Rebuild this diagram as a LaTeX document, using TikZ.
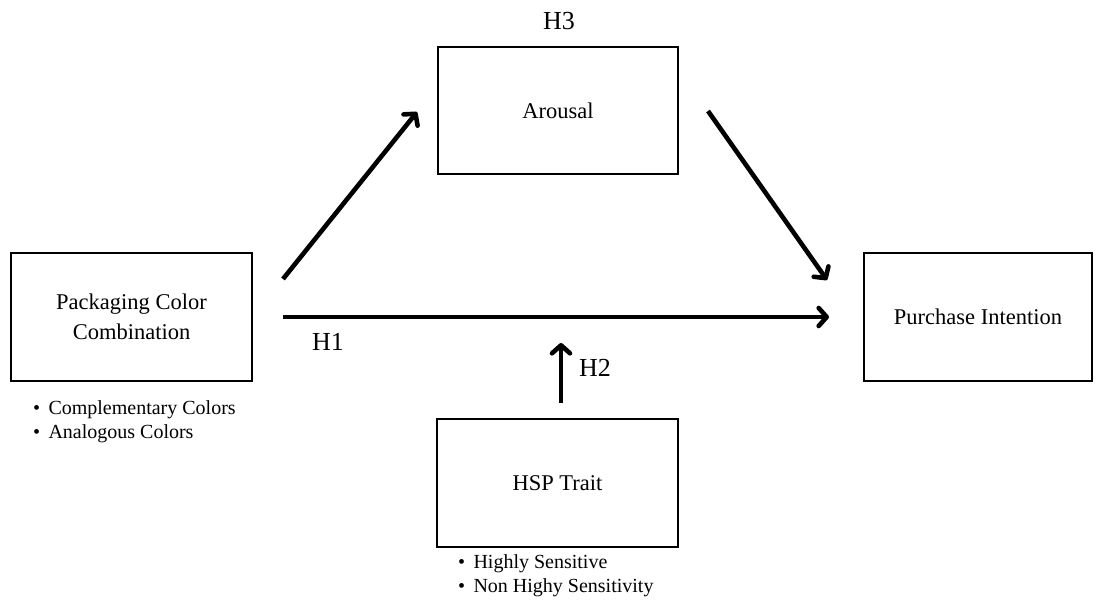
\documentclass[tikz,border=0pt]{standalone}
\usepackage{fontspec}
\setmainfont{Liberation Serif}
\usetikzlibrary{arrows.meta}
\begin{document}
\begin{tikzpicture}[x=1pt,y=-1pt,
  box/.style={draw=black,line width=1.8pt,inner sep=0pt,align=center,
    font=\fontsize{22.5}{30}\selectfont},
  arr/.style={line width=4.6pt,-{Straight Barb[length=8pt,width=18pt,round]}},
  hlab/.style={font=\fontsize{26}{30}\selectfont,inner sep=0pt,anchor=base},
  blt/.style={font=\fontsize{20}{24}\selectfont,inner sep=0pt,anchor=base west}]
\useasboundingbox[fill=white] (0,0) rectangle (1101,601);
\node[box,minimum width=241pt,minimum height=128pt] (pcc) at (131.5,317) {Packaging Color\\Combination};
\node[box,minimum width=240pt,minimum height=127pt] (aro) at (558,110.5) {Arousal};
\node[box,minimum width=241pt,minimum height=128pt] (hsp) at (557.5,483) {HSP Trait};
\node[box,minimum width=228pt,minimum height=128pt] (pi) at (978,317) {Purchase Intention};
\node[blt] (b1) at (33,415) {•\, Complementary Colors};
\node[blt] (b2) at (33,439) {•\, Analogous Colors};
\node[blt] (b3) at (458,568) {•\, Highly Sensitive};
\node[blt] (b4) at (458,592) {•\, Non Highy Sensitivity};
\node[hlab] (h3) at (559,30) {H3};
\node[hlab] (h1) at (328,351) {H1};
\node[hlab] (h2) at (595,377) {H2};
\coordinate (a1s) at (283,279);
\coordinate (a1e) at (417,112);
\coordinate (a2s) at (708,111);
\coordinate (a2e) at (827,280);
\coordinate (a3s) at (283,317);
\coordinate (a3e) at (829,317);
\coordinate (a4s) at (561,403);
\coordinate (a4e) at (561,343);
\draw[arr] (a1s) -- (a1e);
\draw[arr] (a2s) -- (a2e);
\draw[arr] (a3s) -- (a3e);
\draw[arr] (a4s) -- (a4e);
\end{tikzpicture}
\end{document}
